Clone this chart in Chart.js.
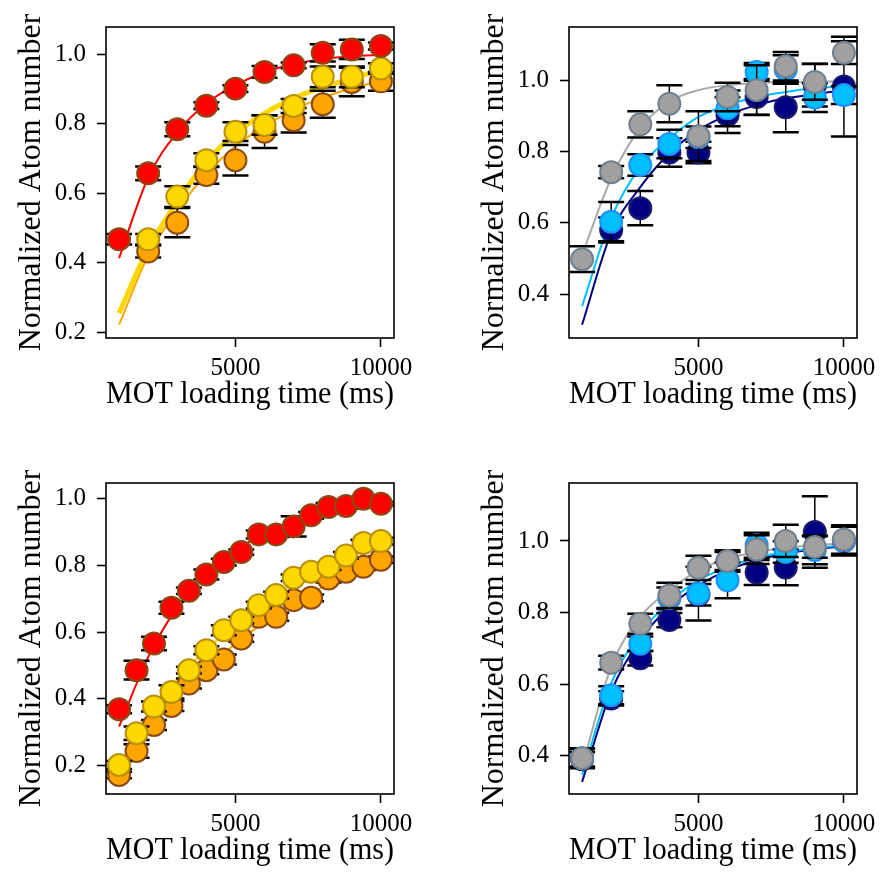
<!DOCTYPE html>
<html>
<head>
<meta charset="utf-8">
<script src="https://cdn.jsdelivr.net/npm/chart.js@4.4.1/dist/chart.umd.min.js"></script>
<style>
  html, body { margin: 0; padding: 0; background: #fff; overflow: hidden; }
  #page { position: relative; width: 880px; height: 883px; overflow: hidden; }
  canvas { position: absolute; }
</style>
</head>
<body>
<div id="page">
  <canvas id="panelA" width="440" height="440" style="left:0;top:0"></canvas>
  <canvas id="panelB" width="440" height="440" style="left:463px;top:0"></canvas>
  <canvas id="panelC" width="440" height="440" style="left:0;top:456px"></canvas>
  <canvas id="panelD" width="440" height="440" style="left:463px;top:456px"></canvas>
</div>
<script>
// tick positions
const xTicks = [5000, 10000];
const yTicksWide = [0.2, 0.4, 0.6, 0.8, 1.0];
const yTicksNarrow = [0.4, 0.6, 0.8, 1.0];

// loading times (ms)
const tFull = [1000, 2000, 3000, 4000, 5000, 6000, 7000, 8000, 9000, 10000];
const tLate = [2000, 3000, 4000, 5000, 6000, 7000, 8000, 9000, 10000];
const tFine = [1000, 1600, 2200, 2800, 3400, 4000, 4600, 5200, 5800, 6400, 7000, 7600, 8200, 8800, 9400, 10000];

// panel A (top left)
const redA = [0.467, 0.657, 0.784, 0.852, 0.901, 0.949, 0.968, 1.004, 1.014, 1.024];
const redErrA = [0.015, 0.02, 0.02, 0.01, 0.01, 0.017, 0.008, 0.025, 0.028, 0.01];
const goldA = [0.467, 0.590, 0.695, 0.777, 0.796, 0.851, 0.935, 0.935, 0.959];
const goldErrA = [0.015, 0.03, 0.02, 0.027, 0.028, 0.02, 0.03, 0.03, 0.015];
const orangeA = [0.432, 0.515, 0.652, 0.695, 0.777, 0.810, 0.856, 0.920, 0.922];
const orangeErrA = [0.017, 0.042, 0.025, 0.044, 0.047, 0.035, 0.039, 0.041, 0.027];
const redFitA = [0.413, 0.645, 0.775, 0.858, 0.911, 0.948, 0.972, 0.986, 0.994, 0.998];
const goldFitA = [0.255, 0.44, 0.575, 0.69, 0.772, 0.83, 0.873, 0.905, 0.93, 0.955];
const orangeFitA = [0.221, 0.42, 0.55, 0.655, 0.735, 0.793, 0.84, 0.875, 0.902, 0.923];

// panel B (top right)
const grayB = [0.498, 0.742, 0.876, 0.934, 0.843, 0.953, 0.972, 1.039, 0.995, 1.077];
const grayErrB = [0.036, 0.017, 0.037, 0.052, 0.07, 0.04, 0.07, 0.04, 0.05, 0.032];
const skyB = [0.603, 0.762, 0.821, 0.84, 0.921, 1.023, 1.03, 0.951, 0.958];
const skyErrB = [0.055, 0.03, 0.04, 0.03, 0.05, 0.025, 0.04, 0.04, 0.025];
const navyB = [0.58, 0.641, 0.797, 0.797, 0.902, 0.953, 0.924, 0.986, 0.982];
const navyErrB = [0.035, 0.048, 0.04, 0.03, 0.05, 0.05, 0.07, 0.06, 0.14];
const grayFitB = [0.51, 0.725, 0.866, 0.94, 0.972, 0.986, 0.992, 0.995, 0.996, 0.997];
const skyFitB = [0.366, 0.613, 0.757, 0.837, 0.897, 0.930, 0.953, 0.967, 0.977, 0.983];
const navyFitB = [0.314, 0.571, 0.70, 0.795, 0.860, 0.902, 0.930, 0.949, 0.961, 0.972];

// panel C (bottom left)
const redC = [0.369, 0.486, 0.566, 0.673, 0.724, 0.773, 0.810, 0.840, 0.893, 0.893, 0.917, 0.950, 0.975, 0.978, 1.0, 0.985];
const redErrC = [0.012, 0.028, 0.02, 0.018, 0.01, 0.015, 0.01, 0.008, 0.012, 0.008, 0.03, 0.01, 0.012, 0.008, 0.005, 0.005];
const goldC = [0.202, 0.297, 0.377, 0.421, 0.486, 0.546, 0.606, 0.636, 0.681, 0.711, 0.763, 0.781, 0.796, 0.830, 0.867, 0.873];
const goldErrC = [0.012, 0.02, 0.015, 0.02, 0.01, 0.012, 0.015, 0.01, 0.01, 0.01, 0.01, 0.01, 0.01, 0.01, 0.01, 0.01];
const orangeC = [0.172, 0.244, 0.322, 0.379, 0.446, 0.486, 0.518, 0.581, 0.646, 0.646, 0.696, 0.703, 0.761, 0.781, 0.796, 0.817];
const orangeErrC = [0.01, 0.02, 0.015, 0.015, 0.015, 0.012, 0.015, 0.01, 0.01, 0.012, 0.01, 0.01, 0.012, 0.01, 0.01, 0.01];
const redFitC = [0.317, 0.525, 0.675, 0.775, 0.845, 0.895, 0.932, 0.958, 0.978, 0.99];
const goldFitC = [0.19, 0.35, 0.46, 0.548, 0.622, 0.688, 0.745, 0.793, 0.835, 0.87];
const orangeFitC = [0.165, 0.30, 0.405, 0.49, 0.565, 0.63, 0.685, 0.735, 0.778, 0.815];

// panel D (bottom right)
const grayD = [0.393, 0.660, 0.769, 0.848, 0.925, 0.944, 0.976, 1.0, 0.983, 1.004];
const grayErrD = [0.028, 0.019, 0.028, 0.035, 0.034, 0.025, 0.04, 0.045, 0.03, 0.04];
const skyD = [0.393, 0.569, 0.713, 0.84, 0.853, 0.89, 0.988, 0.969, 0.975, 1.0];
const skyErrD = [0.025, 0.025, 0.02, 0.03, 0.075, 0.05, 0.035, 0.03, 0.04, 0.04];
const navyD = [0.39, 0.56, 0.672, 0.779, 0.85, 0.944, 0.912, 0.926, 1.025, 1.0];
const navyErrD = [0.02, 0.02, 0.02, 0.02, 0.03, 0.03, 0.035, 0.05, 0.10, 0.04];
const grayFitD = [0.369, 0.648, 0.788, 0.862, 0.918, 0.951, 0.969, 0.981, 0.988, 0.993];
const skyFitD = [0.346, 0.602, 0.741, 0.83, 0.89, 0.927, 0.953, 0.969, 0.98, 0.988];
const navyFitD = [0.327, 0.579, 0.723, 0.816, 0.876, 0.918, 0.946, 0.965, 0.977, 0.985];

Chart.defaults.font.family = '"Liberation Serif", "Times New Roman", serif';
Chart.defaults.color = '#000';

function points(xs, ys) {
  return xs.map((x, i) => ({ x: x, y: ys[i] }));
}

function fitLine(xs, ys, color, width) {
  return {
    data: points(xs, ys), showLine: true, borderColor: color, borderWidth: width,
    pointRadius: 0, cubicInterpolationMode: 'monotone', order: 10
  };
}

function measured(xs, ys, errs, fill, edge, order) {
  return {
    data: points(xs, ys), errors: errs, showLine: false,
    pointRadius: 11, pointBorderWidth: 2,
    pointBackgroundColor: fill, pointBorderColor: edge, order: order
  };
}

// black error bars with caps, drawn just under each dataset's markers; frame around plot
const errorBars = {
  id: 'errorBars',
  beforeDatasetDraw(chart, args) {
    const ds = chart.data.datasets[args.index];
    if (!ds.errors) return;
    const xs = chart.scales.x, ys = chart.scales.y, ctx = chart.ctx;
    ctx.save();
    ctx.strokeStyle = '#000';
    ds.data.forEach((p, i) => {
      const e = ds.errors[i];
      const px = xs.getPixelForValue(p.x);
      const top = ys.getPixelForValue(p.y + e);
      const bot = ys.getPixelForValue(p.y - e);
      ctx.lineWidth = 1.5;
      ctx.beginPath();
      ctx.moveTo(px, top);
      ctx.lineTo(px, bot);
      ctx.stroke();
      ctx.lineWidth = 2.5;
      ctx.beginPath();
      ctx.moveTo(px - 13, top); ctx.lineTo(px + 13, top);
      ctx.moveTo(px - 13, bot); ctx.lineTo(px + 13, bot);
      ctx.stroke();
    });
    ctx.restore();
  },
  afterDraw(chart) {
    const a = chart.chartArea, ctx = chart.ctx;
    ctx.save();
    ctx.strokeStyle = '#000';
    ctx.lineWidth = 1.6;
    ctx.strokeRect(a.left, a.top, a.right - a.left, a.bottom - a.top);
    ctx.restore();
  }
};

function panel(id, datasets, yMin, yMax, yTicks) {
  const grid = { display: true, drawOnChartArea: false, drawTicks: true, tickLength: 9, tickColor: '#000', tickWidth: 1.6 };
  new Chart(document.getElementById(id), {
    type: 'scatter',
    data: { datasets: datasets },
    options: {
      responsive: false,
      animation: false,
      events: [],
      layout: { padding: { top: 27, right: 46, left: 0, bottom: 0 } },
      plugins: { legend: { display: false }, tooltip: { enabled: false } },
      scales: {
        x: {
          min: 550, max: 10450,
          afterBuildTicks: s => { s.ticks = xTicks.map(v => ({ value: v })); },
          afterFit: s => { s.height = 102; },
          ticks: { font: { size: 25 }, padding: 6, maxRotation: 0, callback: v => String(v) },
          grid: grid,
          border: { display: false },
          title: { display: true, text: 'MOT loading time (ms)', font: { size: 32 }, padding: { top: 0, bottom: 26 } }
        },
        y: {
          min: yMin, max: yMax,
          afterBuildTicks: s => { s.ticks = yTicks.map(v => ({ value: v })); },
          afterFit: s => { s.width = 106; },
          ticks: { font: { size: 25 }, padding: 11, callback: v => v.toFixed(1) },
          grid: grid,
          border: { display: false },
          title: { display: true, text: 'Normalized Atom number', font: { size: 32 }, padding: { top: 12, bottom: 0 } }
        }
      }
    },
    plugins: [errorBars]
  });
}

panel('panelA', [
  measured(tFull, redA, redErrA, '#ff0000', '#8b4a14', 0),
  measured(tLate, goldA, goldErrA, '#ffd700', '#b8900c', 1),
  measured(tLate, orangeA, orangeErrA, '#ffa500', '#8b4a14', 2),
  fitLine(tFull, redFitA, '#ff0000', 2),
  fitLine(tFull, goldFitA, '#ffd700', 5),
  fitLine(tFull, orangeFitA, '#ffa500', 2)
], 0.1828, 1.0785, yTicksWide);

panel('panelB', [
  measured(tFull, grayB, grayErrB, '#a0a0a0', '#708090', 0),
  measured(tLate, skyB, skyErrB, '#00bfff', '#1e90ff', 1),
  measured(tLate, navyB, navyErrB, '#000080', '#191970', 2),
  fitLine(tFull, grayFitB, '#aaaaaa', 2),
  fitLine(tFull, skyFitB, '#00bfff', 2),
  fitLine(tFull, navyFitB, '#000080', 2)
], 0.277, 1.149, yTicksNarrow);

panel('panelC', [
  measured(tFine, redC, redErrC, '#ff0000', '#8b4a14', 0),
  measured(tFine, goldC, goldErrC, '#ffd700', '#b8900c', 1),
  measured(tFine, orangeC, orangeErrC, '#ffa500', '#8b4a14', 2),
  fitLine(tFull, redFitC, '#ff0000', 2),
  fitLine(tFull, goldFitC, '#ffd700', 2),
  fitLine(tFull, orangeFitC, '#ffa500', 2)
], 0.115, 1.047, yTicksWide);

panel('panelD', [
  measured(tFull, grayD, grayErrD, '#a0a0a0', '#708090', 0),
  measured(tFull, skyD, skyErrD, '#00bfff', '#1e90ff', 1),
  measured(tFull, navyD, navyErrD, '#000080', '#191970', 2),
  fitLine(tFull, grayFitD, '#aaaaaa', 2),
  fitLine(tFull, skyFitD, '#00bfff', 2),
  fitLine(tFull, navyFitD, '#000080', 2)
], 0.293, 1.162, yTicksNarrow);
</script>
</body>
</html>
